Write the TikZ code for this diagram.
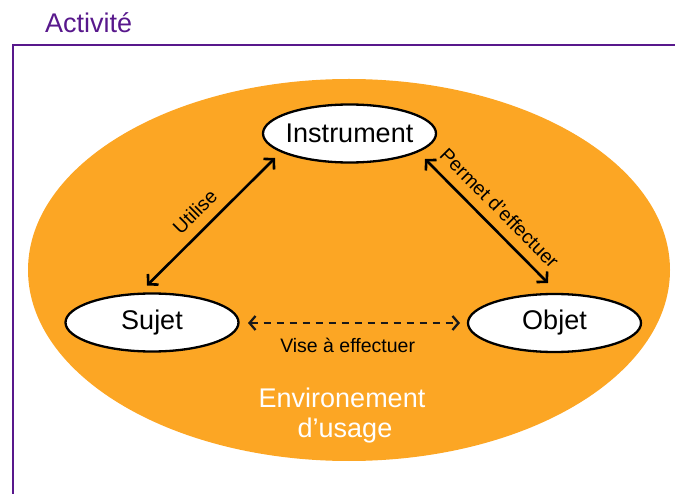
\documentclass[tikz,border=0pt]{standalone}
\usepackage{fontspec}
\setmainfont{Liberation Sans}
\usetikzlibrary{shapes.geometric,arrows.meta,calc}
\definecolor{actpurple}{RGB}{88,24,140}
\definecolor{envorange}{RGB}{252,166,36}
\tikzset{
  whiteell/.style={ellipse, draw=black, line width=2.3pt, fill=white, minimum width=173pt, minimum height=58pt, inner sep=0pt},
  bigtext/.style={font=\fontsize{27}{32}\selectfont, inner sep=0pt},
  lbltext/.style={font=\fontsize{19.5}{23}\selectfont, inner sep=0pt, text=black},
  rel/.style={line width=2.6pt, draw=black, {Straight Barb[length=7pt,width=15pt]}-{Straight Barb[length=7pt,width=15pt]}},
  reldash/.style={line width=2.3pt, draw=black!90, dash pattern=on 7pt off 6pt, {Straight Barb[length=6pt,width=14pt]}-{Straight Barb[length=6pt,width=14pt]}},
}
\begin{document}
\begin{tikzpicture}[x=1pt,y=-1pt]
\useasboundingbox (0,0) rectangle (675,494);
% frame
\coordinate (ftl) at (12.5,45);
\coordinate (ftr) at (676,45);
\coordinate (fbl) at (12.5,495);
\draw[actpurple, line width=2pt] (fbl) -- (ftl) -- (ftr);
\node[bigtext, text=actpurple, anchor=base west] (title) at (45,33) {Activité};
% environment
\node[ellipse, fill=envorange, minimum width=642pt, minimum height=382pt, inner sep=0pt] (env) at (349,270) {};
\node[bigtext, text=white, anchor=base] (env1) at (342,407) {Environement};
\node[bigtext, text=white, anchor=base] (env2) at (345,437) {d’usage};
% nodes
\node[whiteell, label={[bigtext]center:Instrument}] (instr) at (349.5,133.5) {};
\node[whiteell, label={[bigtext]center:Sujet}] (sujet) at (152,322.5) {};
\node[whiteell, label={[bigtext]center:Objet}] (objet) at (554.5,323) {};
% connectors
\draw[rel] ($(sujet.center)+(-5,-37)$) -- node[lbltext, sloped, above=10pt, pos=0.475] (lutil) {Utilise} ($(instr.center)+(-74.5,24.5)$);
\draw[rel] ($(instr.center)+(75.5,25.5)$) -- node[lbltext, sloped, above=10pt, pos=0.5] (lperm) {Permet d'effectuer} ($(objet.center)+(-6.5,-40)$);
\draw[reldash] ($(sujet.center)+(96,0.5)$) -- node[lbltext, below=14pt, pos=0.47] (lvise) {Vise à effectuer} ($(objet.center)+(-94.5,0)$);
\end{tikzpicture}
\end{document}
